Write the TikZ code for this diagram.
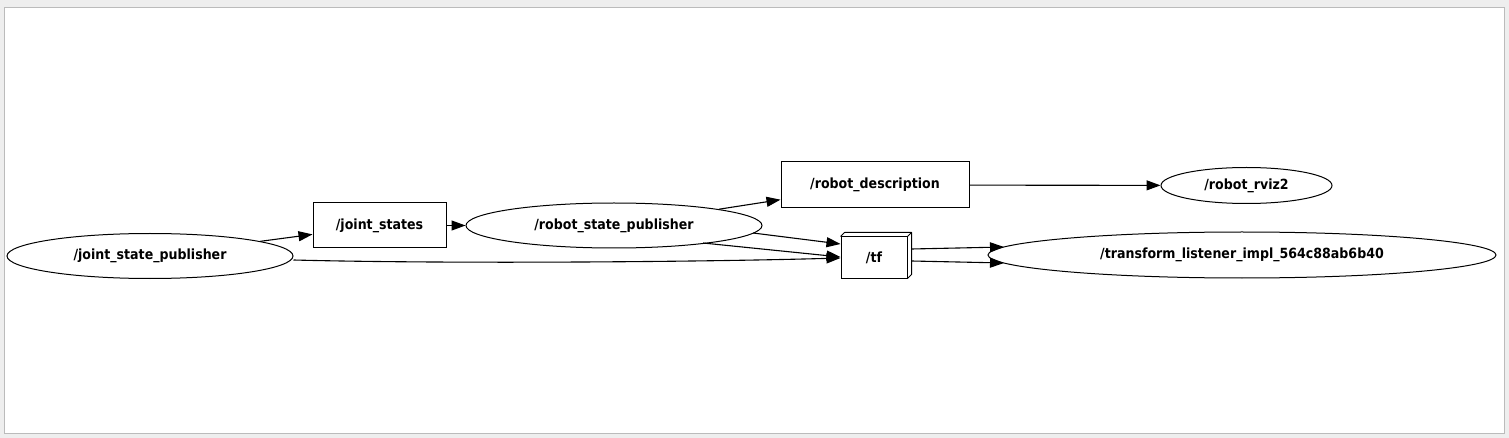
\documentclass[tikz,border=0pt]{standalone}
\usepackage{fontspec}
\usetikzlibrary{shapes.geometric,arrows.meta,calc}
\newfontfamily\lblfont{DejaVu Sans Bold}[FakeStretch=0.9]
\definecolor{outerbg}{HTML}{EEEEEE}
\definecolor{frameline}{HTML}{BBBBBB}
\tikzset{
  base/.style={draw=black, line width=1pt, inner sep=0pt, font=\lblfont\fontsize{14}{16}\selectfont},
  topicnode/.style={base, ellipse},
  boxnode/.style={base, rectangle},
  edge/.style={line width=1.1pt, -{Triangle[length=14pt,width=10pt]}},
}
\begin{document}
\begin{tikzpicture}[x=1pt,y=-1pt]
\useasboundingbox (0,0) rectangle (1509,438);
\fill[outerbg] (0,0) rectangle (1509,438);
\draw[frameline, fill=white, line width=1.5pt] (4.5,7.5) rectangle (1504.5,433.5);

\node[topicnode, minimum width=286pt, minimum height=45pt] (jsp) at (150,256) {/joint\_state\_publisher};
\node[boxnode, minimum width=133pt, minimum height=45pt] (js) at (379.5,225.5) {/joint\_states};
\node[topicnode, minimum width=296pt, minimum height=45pt] (rsp) at (614,225.5) {/robot\_state\_publisher};
\node[boxnode, minimum width=188pt, minimum height=46pt] (rd) at (875,185) {/robot\_description};
\node[topicnode, minimum width=171pt, minimum height=36pt] (rviz) at (1246.5,185.5) {/robot\_rviz2};
\node[boxnode, fill=white, minimum width=66pt, minimum height=41pt] (tf) at (874,257.5) {/tf};
\draw[line width=1pt, line join=round] (tf.north west) -- ++(4,-4) -| ($(tf.south east)+(4,-4)$) -- (tf.south east);
\draw[line width=1pt] (tf.north east) -- ++(4,-4);
\node[topicnode, minimum width=508pt, minimum height=46pt] (tl) at (1242,255) {/transform\_listener\_impl\_564c88ab6b40};

\draw[edge] (jsp) -- (js);
\draw[edge] (js) -- (rsp);
\draw[edge] (rsp) -- (rd);
\draw[edge] (rd) -- (rviz);
\draw[edge] ($(rsp.center)+(139,7.5)$) -- ($(tf.west)+(0,-13.5)$);
\draw[edge] ($(rsp.center)+(89,17.5)$) -- ($(tf.west)+(0,-0.5)$);
\draw[edge] ($(jsp.east)+(0,4)$) .. controls (450,264) and (700,262) .. ($(tf.west)+(0,0.5)$);
\draw[edge] ($(tf.east)+(4,-8.5)$) -- ($(tl.center)+(-238,-8)$);
\draw[edge] ($(tf.east)+(4,3.5)$) -- ($(tl.center)+(-238,8)$);
\end{tikzpicture}
\end{document}
